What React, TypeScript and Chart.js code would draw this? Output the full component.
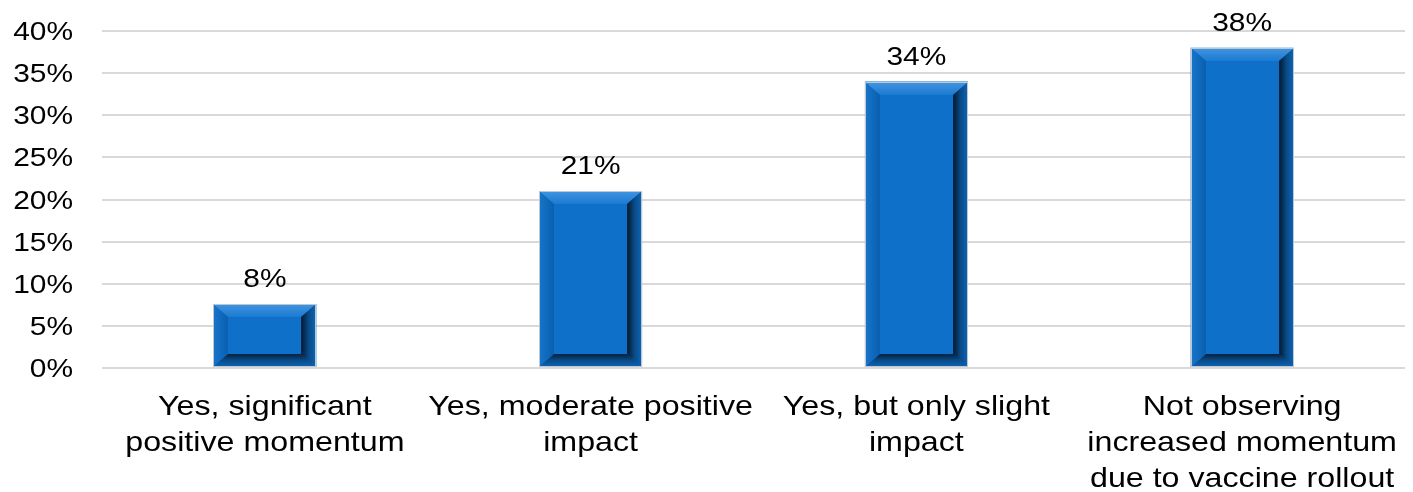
import React, { useEffect, useRef } from "react";
import { Chart, registerables } from "chart.js";

Chart.register(...registerables);

const categories: string[][] = [
  ["Yes, significant", "positive momentum"],
  ["Yes, moderate positive", "impact"],
  ["Yes, but only slight", "impact"],
  ["Not observing", "increased momentum", "due to vaccine rollout"],
];
const values: number[] = [7.6, 21, 34, 38];
const valueLabels: string[] = ["8%", "21%", "34%", "38%"];
const yTicks: number[] = [0, 5, 10, 15, 20, 25, 30, 35, 40];

const FONT = "'Liberation Sans', Arial, sans-serif";
const STRETCH = 1.15;

function drawText(ctx: CanvasRenderingContext2D, text: string, x: number, y: number, size: number, align: CanvasTextAlign) {
  ctx.save();
  ctx.font = `${size}px ${FONT}`;
  ctx.fillStyle = "#000";
  ctx.textAlign = align;
  ctx.textBaseline = "alphabetic";
  ctx.translate(x, y);
  ctx.scale(STRETCH, 1);
  ctx.fillText(text, 0, 0);
  ctx.restore();
}

const bevelPlugin = {
  id: "bevel",
  afterDatasetsDraw(chart: any) {
    const ctx: CanvasRenderingContext2D = chart.ctx;
    const meta = chart.getDatasetMeta(0);
    meta.data.forEach((bar: any, i: number) => {
      const w = bar.width;
      const L = Math.round(bar.x - w / 2);
      const R = Math.round(bar.x + w / 2);
      const T = Math.round(bar.y);
      const B = Math.round(bar.base);
      const sx = 15;
      const sy = 13;
      const iL = L + sx, iR = R - sx, iT = T + sy, iB = B - sy;
      ctx.save();
      ctx.fillStyle = "#0E70C8";
      ctx.fillRect(L, T, R - L, B - T);
      let g = ctx.createLinearGradient(0, T, 0, iT);
      g.addColorStop(0, "#4195E2");
      g.addColorStop(1, "#1C7AD0");
      ctx.fillStyle = g;
      ctx.beginPath();
      ctx.moveTo(L, T); ctx.lineTo(R, T); ctx.lineTo(iR, iT); ctx.lineTo(iL, iT); ctx.closePath();
      ctx.fill();
      g = ctx.createLinearGradient(L, 0, iL, 0);
      g.addColorStop(0, "#1676CC");
      g.addColorStop(1, "#0A5FAE");
      ctx.fillStyle = g;
      ctx.beginPath();
      ctx.moveTo(L, T); ctx.lineTo(iL, iT); ctx.lineTo(iL, iB); ctx.lineTo(L, B); ctx.closePath();
      ctx.fill();
      g = ctx.createLinearGradient(R, 0, iR, 0);
      g.addColorStop(0, "#0C66B8");
      g.addColorStop(0.5, "#0A4A86");
      g.addColorStop(1, "#04182C");
      ctx.fillStyle = g;
      ctx.beginPath();
      ctx.moveTo(R, T); ctx.lineTo(R, B); ctx.lineTo(iR, iB); ctx.lineTo(iR, iT); ctx.closePath();
      ctx.fill();
      g = ctx.createLinearGradient(0, B, 0, iB);
      g.addColorStop(0, "#0C66B8");
      g.addColorStop(0.5, "#0A4C8A");
      g.addColorStop(1, "#06213D");
      ctx.fillStyle = g;
      ctx.beginPath();
      ctx.moveTo(L, B); ctx.lineTo(R, B); ctx.lineTo(iR, iB); ctx.lineTo(iL, iB); ctx.closePath();
      ctx.fill();
      ctx.strokeStyle = "rgba(10,40,80,0.6)";
      ctx.lineWidth = 1;
      ctx.beginPath();
      ctx.moveTo(iL + 0.5, iB + 0.5); ctx.lineTo(iR + 0.5, iB + 0.5); ctx.lineTo(iR + 0.5, iT);
      ctx.stroke();
      ctx.strokeStyle = "#BFC7D0";
      ctx.lineWidth = 1;
      ctx.strokeRect(L + 0.5, T + 0.5, R - L - 1, B - T - 1);
      ctx.restore();
      drawText(ctx, valueLabels[i], bar.x, T - 17, 26, "center");
    });
  },
  afterDraw(chart: any) {
    const ctx: CanvasRenderingContext2D = chart.ctx;
    const y = chart.scales.y;
    const x = chart.scales.x;
    yTicks.forEach((v) => {
      const py = y.getPixelForValue(v);
      drawText(ctx, `${v}%`, 73, py + 9, 26, "right");
    });
    categories.forEach((lines, i) => {
      const px = x.getPixelForValue(i);
      lines.forEach((ln, j) => {
        drawText(ctx, ln, px, 415 + j * 36, 28, "center");
      });
    });
  },
};

export default function App() {
  const ref = useRef<HTMLCanvasElement | null>(null);
  useEffect(() => {
    if (!ref.current) return;
    const chart = new Chart(ref.current, {
      type: "bar",
      data: {
        labels: categories.map((c) => c.join(" ")),
        datasets: [
          {
            data: values,
            backgroundColor: "#0E70C8",
            barPercentage: 0.316,
            categoryPercentage: 1,
          },
        ],
      },
      options: {
        responsive: false,
        animation: false,
        layout: { padding: { top: 31, right: 8, left: 0, bottom: 0 } },
        plugins: { legend: { display: false }, tooltip: { enabled: false } },
        scales: {
          x: {
            grid: { display: false, drawTicks: false },
            border: { display: false },
            ticks: { display: false },
            afterFit(scale: any) {
              scale.height = 124;
            },
          },
          y: {
            min: 0,
            max: 40,
            afterBuildTicks(scale: any) {
              scale.ticks = yTicks.map((v) => ({ value: v }));
            },
            grid: { color: "#D9D9D9", lineWidth: 2, drawTicks: false },
            border: { display: false },
            ticks: { display: false },
            afterFit(scale: any) {
              scale.width = 102;
            },
          },
        },
      },
      plugins: [bevelPlugin],
    });
    return () => chart.destroy();
  }, []);
  return (
    <div style={{ position: "absolute", left: 0, top: 0, width: 1413, height: 492, background: "#fff" }}>
      <canvas ref={ref} width={1413} height={492} />
    </div>
  );
}
